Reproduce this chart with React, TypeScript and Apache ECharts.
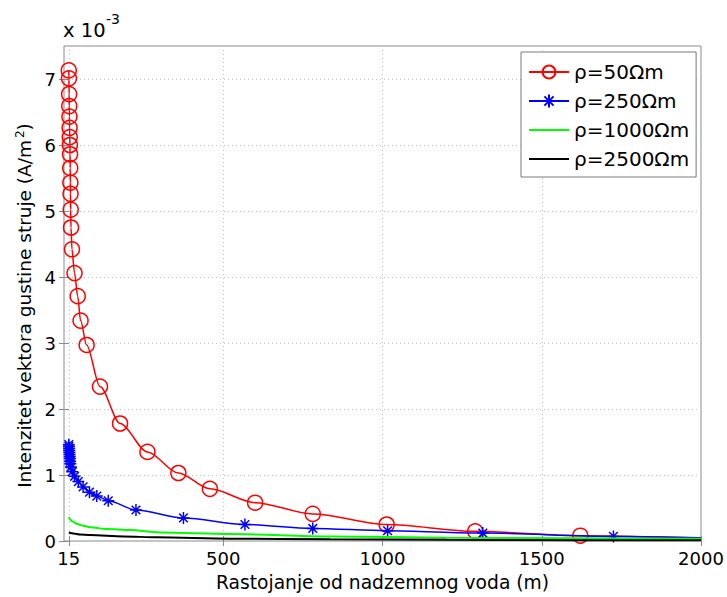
import React, { useEffect, useRef } from 'react';
import * as echarts from 'echarts';

const FONT = 'DejaVu Sans';

// Tick positions
const xTicks = [15, 500, 1000, 1500, 2000];
const yTicks = [0, 1, 2, 3, 4, 5, 6, 7];

// Current density magnitude, in units of 1e-3 A/m^2, vs distance from the line (m)
const dist50 = [15, 15.5, 16, 16.5, 17, 17.5, 18, 18.5, 19, 19.5, 20, 20.5, 21, 22, 25, 33, 43, 52, 71, 113, 176, 262, 359, 458, 600, 781, 1013, 1291, 1621, 2000];
const j50 = [7.13, 7.01, 6.77, 6.59, 6.43, 6.26, 6.12, 6.0, 5.86, 5.65, 5.43, 5.26, 5.02, 4.75, 4.42, 4.06, 3.71, 3.34, 2.97, 2.34, 1.78, 1.35, 1.03, 0.79, 0.58, 0.41, 0.25, 0.146, 0.08, 0.045];

const dist250 = [15, 15.5, 16, 16.5, 17, 17.5, 18, 18.5, 19, 20, 22, 26, 33, 45, 60, 80, 103, 139, 226, 375, 568, 781, 1016, 1315, 1725, 2000];
const j250 = [1.46, 1.43, 1.4, 1.37, 1.34, 1.31, 1.28, 1.25, 1.21, 1.17, 1.12, 1.05, 0.98, 0.9, 0.82, 0.74, 0.68, 0.61, 0.47, 0.35, 0.25, 0.19, 0.155, 0.12, 0.07, 0.05];

const dist1000 = [15, 25, 40, 60, 82, 134, 207, 301, 521, 835, 1200, 1600, 2000];
const j1000 = [0.36, 0.3, 0.26, 0.23, 0.21, 0.18, 0.165, 0.13, 0.105, 0.068, 0.05, 0.04, 0.035];

const dist2500 = [15, 30, 50, 82, 186, 291, 521, 835, 1200, 1600, 2000];
const j2500 = [0.13, 0.115, 0.1, 0.09, 0.07, 0.055, 0.035, 0.025, 0.018, 0.013, 0.01];

const seriesNames = ['ρ=50Ωm', 'ρ=250Ωm', 'ρ=1000Ωm', 'ρ=2500Ωm'];

// Asterisk marker: plus and cross strokes
const STAR = 'path://M0,-5L0,5M-5,0L5,0M-3.6,-3.6L3.6,3.6M-3.6,3.6L3.6,-3.6';

// The final point of a marked series only carries the line to the axis end
function pairs(xs: number[], ys: number[], lastUnmarked: boolean) {
  return xs.map((x, i) =>
    lastUnmarked && i === xs.length - 1
      ? { value: [x, ys[i]], symbol: 'none' }
      : [x, ys[i]]
  );
}

const BOX = '#8a8a8a';
const GRID = '#c4c4c4';

export default function App() {
  const ref = useRef<HTMLDivElement>(null);

  useEffect(() => {
    if (!ref.current) return;
    const chart = echarts.init(ref.current, null, { renderer: 'svg' });

    const tickStyle = { inside: true, length: 5, lineStyle: { color: BOX, width: 1 } };
    const plainLine = (name: string, xs: number[], ys: number[], color: string, z: number) => ({
      name,
      type: 'line',
      data: pairs(xs, ys, false),
      smooth: 0.3,
      smoothMonotone: 'x',
      symbol: 'circle',
      showSymbol: false,
      color,
      lineStyle: { color, width: 2 },
      itemStyle: { color: 'rgba(0,0,0,0)', borderColor: 'rgba(0,0,0,0)', borderWidth: 0 },
      z,
    });

    chart.setOption({
      animation: false,
      backgroundColor: '#fff',
      textStyle: { fontFamily: FONT },
      grid: {
        left: 64,
        right: 26,
        top: 46,
        bottom: 55,
        show: true,
        borderColor: BOX,
        borderWidth: 1,
        backgroundColor: 'transparent',
      },
      graphic: [
        {
          type: 'text',
          left: 63,
          top: 20,
          style: { text: 'x 10', fontSize: 19.5, fontFamily: FONT, fill: '#000' },
        },
        {
          type: 'text',
          left: 106,
          top: 12,
          style: { text: '-3', fontSize: 14, fontFamily: FONT, fill: '#000' },
        },
      ],
      legend: {
        left: 521,
        top: 52,
        orient: 'vertical',
        backgroundColor: '#fff',
        borderColor: '#7a7a7a',
        borderWidth: 1,
        padding: [10, 7, 8, 7],
        itemWidth: 40,
        itemHeight: 16,
        itemGap: 9,
        textStyle: { fontFamily: FONT, fontSize: 20, color: '#000', lineHeight: 20 },
        data: seriesNames,
      },
      xAxis: [
        {
          type: 'value',
          min: 0,
          max: 2000,
          axisLine: { show: false },
          axisTick: { ...tickStyle, customValues: xTicks },
          axisLabel: {
            customValues: xTicks,
            formatter: (v: number) => String(v),
            fontSize: 18,
            color: '#000',
            margin: 8,
            fontFamily: FONT,
          },
          splitLine: { show: true, lineStyle: { color: GRID, type: [1, 3], width: 1 } },
          name: 'Rastojanje od nadzemnog voda (m)',
          nameLocation: 'middle',
          nameGap: 32,
          nameTextStyle: { fontSize: 18.7, color: '#000', fontFamily: FONT },
        },
        {
          type: 'value',
          position: 'top',
          min: 0,
          max: 2000,
          axisLine: { show: false },
          axisTick: { ...tickStyle, customValues: xTicks },
          axisLabel: { show: false },
          splitLine: { show: false },
        },
      ],
      yAxis: [
        {
          type: 'value',
          min: 0,
          max: 7.5,
          axisLine: { show: false },
          axisTick: { ...tickStyle, customValues: yTicks },
          axisLabel: { customValues: yTicks, fontSize: 18, color: '#000', margin: 8, fontFamily: FONT },
          splitLine: { show: true, lineStyle: { color: GRID, type: [1, 3], width: 1 } },
          name: 'Intenzitet vektora gustine struje (A/m{sup|2})',
          nameLocation: 'middle',
          nameGap: 24,
          nameTextStyle: {
            fontSize: 18.5,
            color: '#000',
            fontFamily: FONT,
            padding: [0, 24, 0, 0],
            rich: { sup: { fontSize: 12, fontFamily: FONT, color: '#000', padding: [0, 0, 9, 2] } },
          },
        },
        {
          type: 'value',
          position: 'right',
          min: 0,
          max: 7.5,
          axisLine: { show: false },
          axisTick: { ...tickStyle, customValues: yTicks },
          axisLabel: { show: false },
          splitLine: { show: false },
        },
      ],
      series: [
        {
          name: seriesNames[0],
          type: 'line',
          data: pairs(dist50, j50, true),
          smooth: 0.3,
          smoothMonotone: 'x',
          symbol: 'circle',
          symbolSize: 15,
          color: '#ff0000',
          lineStyle: { color: '#ff0000', width: 1.5 },
          itemStyle: { color: 'rgba(0,0,0,0)', borderColor: '#ff0000', borderWidth: 1.5 },
          z: 2,
        },
        {
          name: seriesNames[1],
          type: 'line',
          data: pairs(dist250, j250, true),
          smooth: 0.3,
          smoothMonotone: 'x',
          symbol: STAR,
          symbolSize: 12,
          color: '#0000ff',
          lineStyle: { color: '#0000ff', width: 1.5 },
          itemStyle: { color: '#0000ff', borderColor: '#0000ff', borderWidth: 1.5 },
          z: 3,
        },
        plainLine(seriesNames[2], dist1000, j1000, '#00ff00', 4),
        plainLine(seriesNames[3], dist2500, j2500, '#000000', 5),
      ],
    });

    return () => chart.dispose();
  }, []);

  return <div ref={ref} style={{ width: 727, height: 597, position: 'absolute', left: 0, top: 0 }} />;
}
